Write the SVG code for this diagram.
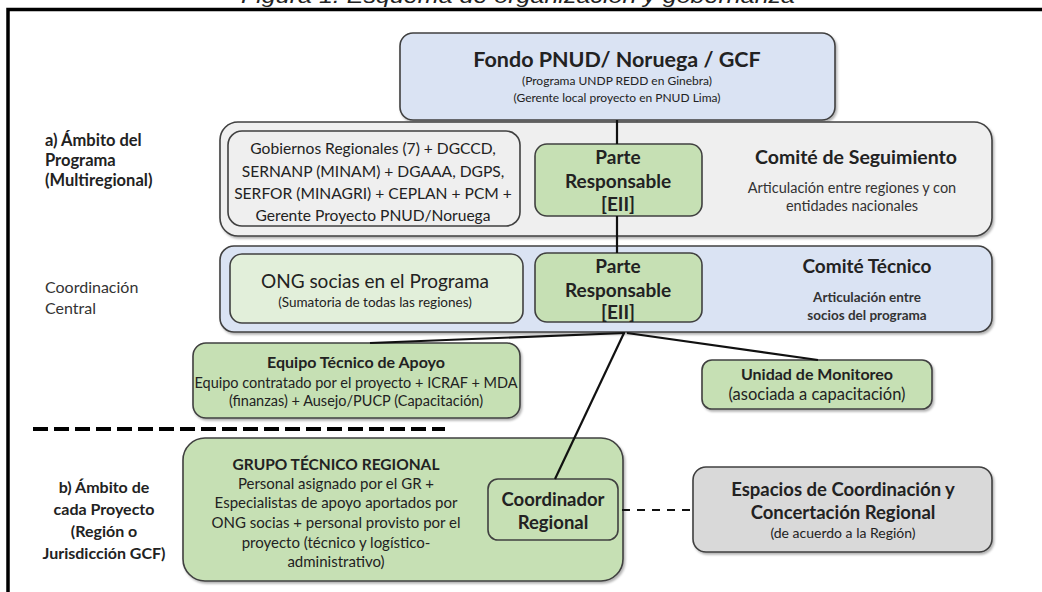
<svg xmlns="http://www.w3.org/2000/svg" width="1042" height="592" viewBox="0 0 1042 592">
<style>
text{font-family:Lato,"Liberation Sans",sans-serif;fill:#222;text-anchor:middle}
.b{font-weight:bold}
.l{text-anchor:start}
.box{stroke:#404040;stroke-width:1.6}
.blue{fill:#dae3f3}
.gray{fill:#efefef}
.green{fill:#c6e0b4}
.lgreen{fill:#e2efda}
.dgray{fill:#d9d9d9}
.con{stroke:#111;stroke-width:2.2;fill:none}
</style>
<defs>
<filter id="sh" x="-5%" y="-5%" width="110%" height="115%">
<feDropShadow dx="1.5" dy="2" stdDeviation="1.2" flood-color="#000" flood-opacity="0.3"/>
</filter>
</defs>
<rect width="1042" height="592" fill="#fff"/>
<text x="518" y="3" font-style="italic" font-size="21" textLength="554" lengthAdjust="spacingAndGlyphs" style="font-family:'Liberation Sans',Arial,sans-serif">Figura 1. Esquema de organización y gobernanza</text>
<path d="M8 592 V9.5 H1042" stroke="#000" stroke-width="3.5" fill="none"/>

<g id="left-labels">
<text class="b l" x="45" y="146" font-size="16.5">a) Ámbito del</text>
<text class="b l" x="45" y="166" font-size="16.5">Programa</text>
<text class="b l" x="45" y="186" font-size="16.5">(Multiregional)</text>
<text class="l" x="45" y="293" font-size="16" style="fill:#333">Coordinación</text>
<text class="l" x="45" y="314" font-size="16" style="fill:#333">Central</text>
<text class="b" x="104" y="493" font-size="16">b) Ámbito de</text>
<text class="b" x="104" y="515" font-size="16">cada Proyecto</text>
<text class="b" x="104" y="537" font-size="16">(Región o</text>
<text class="b" x="104" y="559" font-size="16">Jurisdicción GCF)</text>
</g>

<g id="divider">
<line x1="33" y1="429" x2="445" y2="429" stroke="#000" stroke-width="4" stroke-dasharray="15 6"/>
</g>

<g id="fondo">
<rect class="box blue" x="400" y="33" width="435" height="87" rx="13" filter="url(#sh)"/>
<text class="b" x="617" y="67" font-size="21.5">Fondo PNUD/ Noruega / GCF</text>
<text x="617" y="85" font-size="12">(Programa UNDP REDD en Ginebra)</text>
<text x="617" y="102" font-size="12">(Gerente local proyecto en PNUD Lima)</text>
</g>

<g id="comite-seguimiento">
<rect class="box gray" x="220" y="122" width="772" height="114" rx="18" filter="url(#sh)"/>
<text class="b" x="856" y="164" font-size="19.5">Comité de Seguimiento</text>
<text x="852" y="193" font-size="14.5" style="fill:#333">Articulación entre regiones y con</text>
<text x="852" y="211" font-size="14.5" style="fill:#333">entidades nacionales</text>
</g>

<g id="gobiernos">
<rect class="box gray" x="228" y="131" width="292" height="95" rx="14"/>
<text x="373" y="154" font-size="15.6">Gobiernos Regionales (7) + DGCCD,</text>
<text x="373" y="177" font-size="15.6">SERNANP (MINAM) + DGAAA, DGPS,</text>
<text x="373" y="199" font-size="15.6">SERFOR (MINAGRI) + CEPLAN + PCM +</text>
<text x="373" y="221" font-size="15.6">Gerente Proyecto PNUD/Noruega</text>
</g>

<g id="comite-tecnico">
<rect class="box blue" x="220" y="246" width="772" height="86" rx="14" filter="url(#sh)"/>
<text class="b" x="867" y="273" font-size="19">Comité Técnico</text>
<text class="b" x="867" y="302" font-size="13.5" style="fill:#333">Articulación entre</text>
<text class="b" x="867" y="320" font-size="13.5" style="fill:#333">socios del programa</text>
</g>

<g id="ong">
<rect class="box lgreen" x="230" y="254" width="293" height="69" rx="12"/>
<text x="375" y="288" font-size="19">ONG socias en el Programa</text>
<text x="375" y="307" font-size="13.5">(Sumatoria de todas las regiones)</text>
</g>

<g id="parte1">
<rect class="box green" x="535" y="144" width="167" height="72" rx="12"/>
<text class="b" x="618" y="164" font-size="19">Parte</text>
<text class="b" x="618" y="188" font-size="19">Responsable</text>
<text class="b" x="618" y="211" font-size="19">[EII]</text>
</g>

<g id="parte2">
<rect class="box green" x="535" y="253" width="167" height="69" rx="12"/>
<text class="b" x="618" y="273" font-size="19">Parte</text>
<text class="b" x="618" y="297" font-size="19">Responsable</text>
<text class="b" x="618" y="319" font-size="19">[EII]</text>
</g>

<g id="equipo">
<rect class="box green" x="193" y="343" width="327" height="75" rx="13" filter="url(#sh)"/>
<text class="b" x="356" y="368" font-size="16">Equipo Técnico de Apoyo</text>
<text x="356" y="388" font-size="14.5">Equipo contratado por el proyecto + ICRAF + MDA</text>
<text x="356" y="406" font-size="14.5">(finanzas) + Ausejo/PUCP (Capacitación)</text>
</g>

<g id="unidad">
<rect class="box green" x="702" y="360" width="230" height="49" rx="10" filter="url(#sh)"/>
<text class="b" x="817" y="380" font-size="16">Unidad de Monitoreo</text>
<text x="817" y="400" font-size="16.5">(asociada a capacitación)</text>
</g>

<g id="grupo">
<rect class="box green" x="183" y="438" width="440" height="143" rx="22" filter="url(#sh)"/>
<text class="b" x="336" y="470" font-size="15.5">GRUPO TÉCNICO REGIONAL</text>
<text x="336" y="489" font-size="15">Personal asignado por el GR +</text>
<text x="336" y="508" font-size="15">Especialistas de apoyo aportados por</text>
<text x="336" y="528" font-size="15">ONG socias + personal provisto por el</text>
<text x="336" y="548" font-size="15">proyecto (técnico y logístico-</text>
<text x="336" y="567" font-size="15">administrativo)</text>
</g>

<g id="coordinador">
<rect class="box green" x="488" y="479" width="130" height="61" rx="10"/>
<text class="b" x="553" y="506" font-size="18.5">Coordinador</text>
<text class="b" x="553" y="529" font-size="18.5">Regional</text>
</g>

<g id="espacios">
<rect class="box dgray" x="693" y="467" width="299" height="85" rx="13" filter="url(#sh)"/>
<text class="b" x="843" y="496" font-size="18.5">Espacios de Coordinación y</text>
<text class="b" x="843" y="519" font-size="18.5">Concertación Regional</text>
<text x="843" y="538" font-size="14">(de acuerdo a la Región)</text>
</g>

<g id="connectors">
<line class="con" x1="617" y1="120" x2="617" y2="144"/>
<line class="con" x1="617" y1="216" x2="617" y2="253"/>
<path class="con" d="M625 333 L370 343"/>
<path class="con" d="M627 333 L818 360"/>
<path class="con" d="M624 333 L555 479"/>
<line x1="622" y1="510" x2="693" y2="510" stroke="#111" stroke-width="2" stroke-dasharray="8 7"/>
</g>
</svg>
